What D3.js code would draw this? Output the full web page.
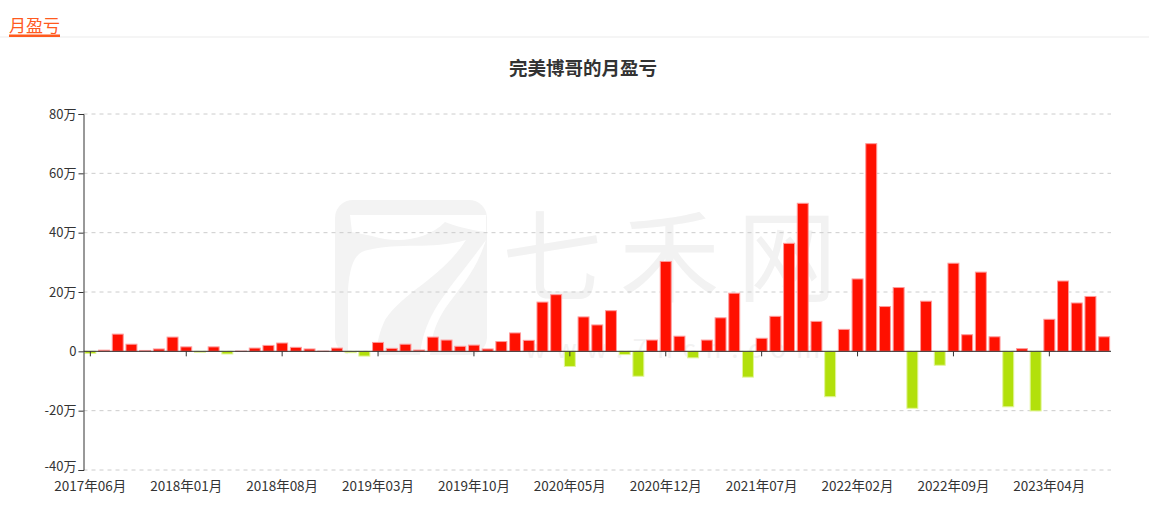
<!DOCTYPE html>
<html><head><meta charset="utf-8">
<script src="https://cdn.jsdelivr.net/npm/d3@7"></script>
<style>body{margin:0;background:#fff;font-family:"Noto Sans CJK SC","Noto Sans",sans-serif;}</style>
</head><body>
<svg id="c" width="1149" height="508"></svg>
<script>
// months 2017-06 .. 2023-08
const months = [];
for (let y = 2017, m = 6; y < 2023 || (y === 2023 && m <= 8); ) {
  months.push(y + "年" + String(m).padStart(2, "0") + "月");
  m++; if (m > 12) { m = 1; y++; }
}
// monthly P&L in 万
const values = [
  -0.7, 0.4, 5.8, 2.4, 0.3, 0.8, 4.8, 1.5, -0.3, 1.5,
  -0.9, 0.1, 1.1, 2.0, 2.8, 1.35, 0.8, 0.1, 1.1, -0.45,
  -1.6, 3.0, 1.0, 2.4, 0.45, 4.8, 3.8, 1.7, 2.1, 0.8,
  3.3, 6.2, 3.7, 16.6, 19.1, -5.1, 11.6, 8.9, 13.7, -1.1,
  -8.4, 3.8, 30.3, 5.1, -2.2, 3.8, 11.3, 19.6, -8.7, 4.4,
  11.8, 36.4, 49.9, 10.1, -15.3, 7.4, 24.4, 70.0, 15.1, 21.5,
  -19.2, 16.9, -4.7, 29.7, 5.6, 26.7, 4.9, -18.7, 0.9, -20.1,
  10.8, 23.7, 16.3, 18.5, 4.9
];
const yTicks = [-40, -20, 0, 20, 40, 60, 80];
const title = "完美博哥的月盈亏";
const header = "月盈亏";

const svg = d3.select("#c");
const m = {l: 83.5, r: 1111, t: 114, b: 470};

// header
svg.append("line").attr("x1", 0).attr("x2", 1149).attr("y1", 37).attr("y2", 37)
  .attr("stroke", "#ebebeb").attr("stroke-width", 1);
svg.append("text").attr("x", 9).attr("y", 32).text(header)
  .attr("fill", "#ff5a1e").attr("font-size", 17);
svg.append("rect").attr("x", 9).attr("y", 34.5).attr("width", 51).attr("height", 2.5).attr("fill", "#ff5a1e");

// title
svg.append("text").attr("x", 583).attr("y", 75).attr("text-anchor", "middle")
  .attr("font-size", 18.5).attr("font-weight", "bold").attr("fill", "#333").text(title);

// watermark
const wm = svg.append("g");
wm.append("rect").attr("x", 335).attr("y", 200).attr("width", 152).attr("height", 155).attr("rx", 18).attr("fill", "#f3f3f3");
wm.append("path").attr("fill", "#fff")
  .attr("d", "M350,215 L486,215 L486,232 C470,230 455,226 445,222 C430,238 400,245 372,236 L352,232 Z");
wm.append("path").attr("fill", "#fff")
  .attr("d", "M368,250 C400,242 430,250 466,240 C440,280 405,290 385,320 C378,335 376,348 378,355 L348,355 L348,290 C350,262 356,252 368,250 Z");
wm.append("path").attr("fill", "#fff")
  .attr("d", "M486,240 C470,290 440,300 432,340 L430,355 L420,355 C425,310 450,290 486,240 Z");
wm.append("text").attr("x", 502).attr("y", 294).text("七禾网")
  .attr("font-size", 100).attr("fill", "#f2f2f2").attr("textLength", 335);
wm.append("text").attr("x", 525).attr("y", 358).text("www.7hcn.com")
  .attr("font-size", 26).attr("fill", "#f2f2f2").attr("textLength", 295);

const xb = d3.scaleBand().domain(months).range([m.l, m.r]);
const y = d3.scaleLinear().domain([-40, 80]).range([m.b, m.t]);

// grid
svg.append("g").selectAll("line").data(yTicks).join("line")
  .attr("x1", m.l).attr("x2", m.r).attr("y1", d => y(d)).attr("y2", d => y(d))
  .attr("stroke", "#ccc").attr("stroke-dasharray", "4,4").attr("stroke-width", 1);

// bars
svg.append("g").selectAll("rect").data(values).join("rect")
  .attr("x", (d, i) => xb(months[i]) + xb.bandwidth() * 0.1)
  .attr("width", xb.bandwidth() * 0.8)
  .attr("y", d => y(Math.max(0, d)))
  .attr("height", d => Math.abs(y(d) - y(0)))
  .attr("fill", d => d >= 0 ? "#ff1000" : "#b2e00b")
  .attr("stroke", d => d >= 0 ? "#ff9a9a" : "#e2f59a")
  .attr("stroke-width", 1);

// y axis
const ya = svg.append("g").attr("transform", `translate(${m.l},0)`)
  .call(d3.axisLeft(y).tickValues(yTicks).tickSize(5).tickFormat(d => d === 0 ? "0" : d + "万"));
ya.select(".domain").attr("stroke", "#333");
ya.selectAll(".tick line").attr("stroke", "#333");
ya.selectAll("text").attr("fill", "#333").attr("font-size", 13).attr("x", -7)
  .attr("font-family", "'Noto Sans CJK SC',sans-serif");
ya.selectAll(".tick").filter(d => d === -40).select("text").attr("dy", "0.05em");

// x axis line at zero
const labelIdx = months.filter((d, i) => i % 7 === 0);
svg.append("line").attr("x1", m.l).attr("x2", m.r).attr("y1", y(0)).attr("y2", y(0))
  .attr("stroke", "#333").attr("stroke-width", 1);
svg.append("g").selectAll("line").data(labelIdx).join("line")
  .attr("x1", d => xb(d) + xb.bandwidth() / 2).attr("x2", d => xb(d) + xb.bandwidth() / 2)
  .attr("y1", y(0)).attr("y2", y(0) + 5).attr("stroke", "#333");
svg.append("g").selectAll("text").data(labelIdx).join("text")
  .attr("x", d => xb(d) + xb.bandwidth() / 2).attr("y", 491)
  .attr("text-anchor", "middle").attr("font-size", 13.5).attr("fill", "#333").text(d => d);
</script>
</body></html>
